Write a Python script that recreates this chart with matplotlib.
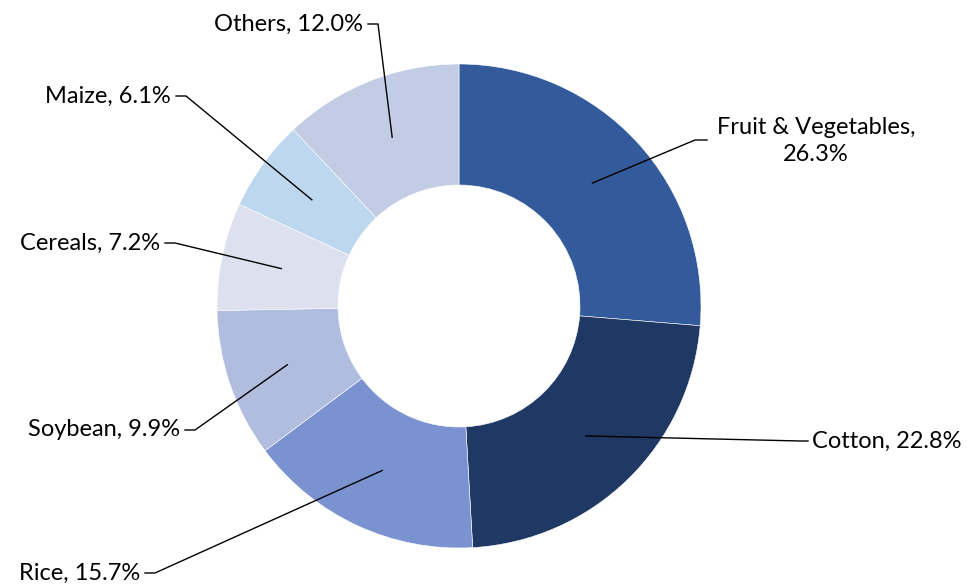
import numpy as np
import matplotlib.pyplot as plt

# data
crops = ["Fruit & Vegetables", "Cotton", "Rice", "Soybean", "Cereals", "Maize", "Others"]
shares = [26.3, 22.8, 15.7, 9.9, 7.2, 6.1, 12.0]
colors = ["#335A9A", "#203864", "#7A93D0", "#B1BDDF", "#DCE0EF", "#BDD7EE", "#C2CCE4"]

# label layout (pixel coords, y up): elbow point, text anchor, alignment
label_pos = [
    ((695, 444), (707, 444), "left"),
    ((800, 143), (808, 143), "left"),
    ((155, 11), (145, 11), "right"),
    ((195, 154), (185, 154), "right"),
    ((175, 341), (165, 341), "right"),
    ((186, 488), (176, 488), "right"),
    ((378, 560), (368, 560), "right"),
]

W, H = 968, 584
cx, cy, R = 459, 278, 242
ring = 0.5

plt.rcParams["font.family"] = ["Lato", "DejaVu Sans"]
fig = plt.figure(figsize=(W / 100, H / 100), dpi=100)
ax = fig.add_axes([0, 0, 1, 1])

wedges, _ = ax.pie(shares, colors=colors, startangle=90, counterclock=False,
                   center=(cx, cy), radius=R, frame=True,
                   wedgeprops=dict(width=R * ring, edgecolor="white", linewidth=0.4))
ax.set_xlim(0, W)
ax.set_ylim(0, H)
ax.set_aspect("equal")
ax.axis("off")

rmid = R * (1 - ring / 2)
for w, name, val, (elbow, txt, ha) in zip(wedges, crops, shares, label_pos):
    ang = np.deg2rad((w.theta1 + w.theta2) / 2)
    x0, y0 = cx + rmid * np.cos(ang), cy + rmid * np.sin(ang)
    ax.plot([x0, elbow[0], txt[0]], [y0, elbow[1], txt[1]], color="black", lw=1)
    if name == "Fruit & Vegetables":
        label = f"{name},\n{val:.1f}%"
        ax.text(txt[0] + 109, txt[1] - 1, label, ha="center", va="center",
                fontsize=17, linespacing=1.4)
    else:
        label = f"{name}, {val:.1f}%"
        tx = txt[0] + 4 if ha == "left" else txt[0] - 5
        ax.text(tx, txt[1], label, ha=ha, va="center", fontsize=17)

fig.savefig("out.png", dpi=100)
